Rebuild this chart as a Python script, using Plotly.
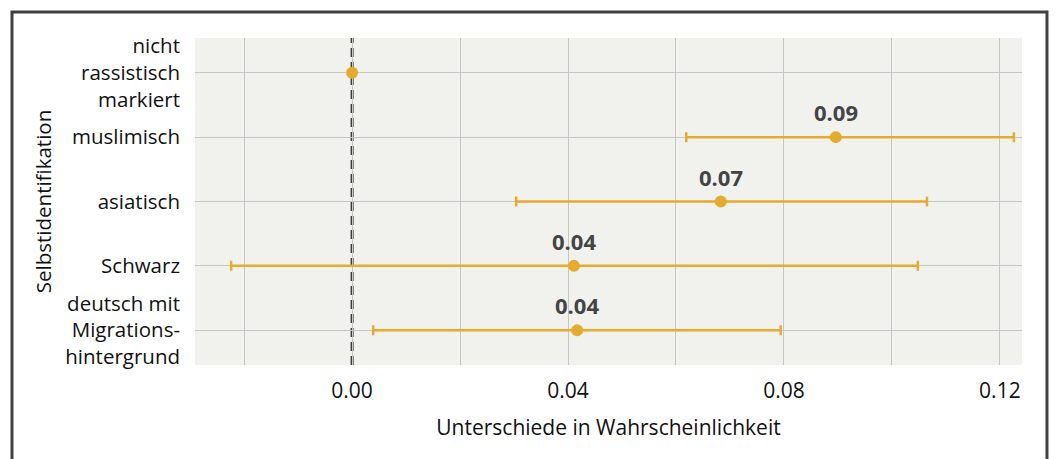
import plotly.graph_objects as go

# Groups (top to bottom) and estimated differences with confidence bounds
groups = [
    "nicht<br>rassistisch<br>markiert",
    "muslimisch",
    "asiatisch",
    "Schwarz",
    "deutsch mit<br>Migrations-<br>hintergrund",
]
estimates = [0.0, 0.0896, 0.0683, 0.0411, 0.0417]
lower = [None, 0.0619, 0.0304, -0.0224, 0.0039]
upper = [None, 0.1226, 0.1065, 0.1048, 0.0794]
x_ticks = [0.00, 0.04, 0.08, 0.12]
x_tick_labels = ["0.00", "0.04", "0.08", "0.12"]

gold = "#E5AB2D"
ink = "#444444"
grid = "#C6C6C6"

err_plus = [None if u is None else u - e for u, e in zip(upper, estimates)]
err_minus = [None if l is None else e - l for l, e in zip(lower, estimates)]
ypos = list(range(len(groups)))

fig = go.Figure()

# Reference line at zero (above the grid, below the markers)
fig.add_shape(type="line", xref="x", yref="paper", x0=0, x1=0, y0=0, y1=1,
              line=dict(color="#3C3C3C", width=3, dash="9px,5px"), layer="between")

fig.add_trace(go.Scatter(
    x=estimates, y=ypos, mode="markers",
    marker=dict(color=gold, size=12),
    error_x=dict(type="data", symmetric=False,
                 array=[0 if v is None else v for v in err_plus],
                 arrayminus=[0 if v is None else v for v in err_minus],
                 color=gold, thickness=2.5, width=5),
    showlegend=False, hoverinfo="skip",
))

# Value labels above the estimates (the baseline group is unlabelled)
for i, (e, lo) in enumerate(zip(estimates, lower)):
    if lo is None:
        continue
    fig.add_annotation(x=e, y=i, text=f"<b>{e:.2f}</b>", showarrow=False,
                       yshift=25, font=dict(family="Open Sans", size=22, color=ink))

# Outer frame
fig.add_shape(type="rect", xref="paper", yref="paper",
              x0=-0.2213, x1=1.0302, y0=-0.33, y1=1.0795,
              line=dict(color="#404040", width=3), fillcolor="rgba(0,0,0,0)")

fig.update_layout(
    width=1062, height=459,
    margin=dict(l=195, r=40, t=38, b=94),
    paper_bgcolor="white", plot_bgcolor="#F1F2EE",
    font=dict(family="Open Sans", size=21, color="#111111"),
    xaxis=dict(range=[-0.0291, 0.1241], tickvals=x_ticks, ticktext=x_tick_labels,
               showgrid=True, gridcolor=grid, gridwidth=1,
               minor=dict(dtick=0.02, tick0=0, showgrid=True, gridcolor=grid, gridwidth=1),
               zeroline=False, showline=False, ticks="", ticklabelstandoff=11,
               tickfont=dict(size=21),
               title=dict(text="Unterschiede in Wahrscheinlichkeit", standoff=17,
                          font=dict(size=21))),
    yaxis=dict(range=[4.54, -0.54], tickvals=ypos, ticktext=groups,
               showgrid=True, gridcolor=grid, gridwidth=1,
               zeroline=False, showline=False, ticks="", ticklabelstandoff=14,
               tickfont=dict(size=20.5),
               title=dict(text="Selbstidentifikation", standoff=8, font=dict(size=20.5))),
)

fig.write_html("out.html")
